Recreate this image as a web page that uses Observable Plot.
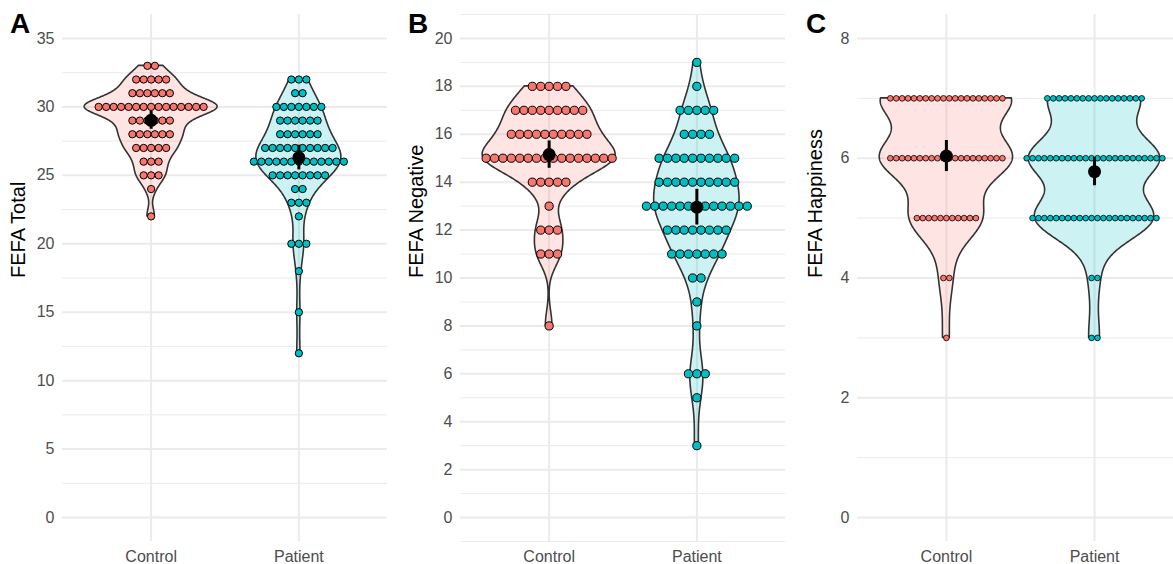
<!DOCTYPE html>
<html>
<head>
<meta charset="utf-8">
<script src="https://cdn.jsdelivr.net/npm/d3@7"></script>
<script src="https://cdn.jsdelivr.net/npm/@observablehq/plot@0.6"></script>
<style>
  html, body { margin: 0; padding: 0; background: white; }
  #wrap { position: relative; width: 1173px; height: 564px; overflow: hidden; font-family: "Liberation Sans", Arial, sans-serif; }
  .panel { position: absolute; top: 0; }
  .tag { position: absolute; top: 10px; font-size: 28px; font-weight: bold; color: black; line-height: 1; }
</style>
</head>
<body>
<div id="wrap"></div>
<script>
// ---------- DATA ----------
const groups = ["Control", "Patient"];
const groupColors = ["#F8766D", "#00BFC4"];

// Panel A: FEFA Total
const totalControlValues = [33, 32, 31, 30, 29, 28, 27, 26, 25, 24, 22];
const totalControlCounts = [2, 5, 6, 15, 6, 6, 5, 3, 3, 1, 1];
const totalPatientValues = [32, 31, 30, 29, 28, 27, 26, 25, 24, 23, 22, 20, 18, 15, 12];
const totalPatientCounts = [3, 2, 7, 6, 6, 10, 13, 8, 2, 3, 1, 3, 1, 1, 1];
const totalTicks = [0, 5, 10, 15, 20, 25, 30, 35];
const totalMinorTicks = [2.5, 7.5, 12.5, 17.5, 22.5, 27.5, 32.5];

// Panel B: FEFA Negative
const negControlValues = [18, 17, 16, 15, 14, 13, 12, 11, 8];
const negControlCounts = [5, 9, 10, 16, 5, 1, 3, 3, 1];
const negPatientValues = [19, 18, 17, 16, 15, 14, 13, 12, 11, 10, 9, 8, 6, 5, 3];
const negPatientCounts = [1, 1, 5, 4, 10, 10, 13, 8, 7, 2, 1, 1, 3, 1, 1];
const negTicks = [0, 2, 4, 6, 8, 10, 12, 14, 16, 18, 20];
const negMinorTicks = [-1, 1, 3, 5, 7, 9, 11, 13, 15, 17, 19, 21];

// Panel C: FEFA Happiness
const happyControlValues = [7, 6, 5, 4, 3];
const happyControlCounts = [20, 20, 11, 2, 1];
const happyPatientValues = [7, 6, 5, 4, 3];
const happyPatientCounts = [17, 24, 22, 2, 2];
const happyTicks = [0, 2, 4, 6, 8];
const happyMinorTicks = [1, 3, 5, 7];

const panels = [
  { tag: "A", title: "FEFA Total", left: 0, width: 390, marginLeft: 62, marginRight: 3, xMax: 2.6, titleDx: -44, tagLeft: 10,
    domain: [-1.75, 36.75], ticks: totalTicks, minor: totalMinorTicks, dotPx: 7.5, dotStroke: 1,
    data: [[totalControlValues, totalControlCounts], [totalPatientValues, totalPatientCounts]] },
  { tag: "B", title: "FEFA Negative", left: 390, width: 397, marginLeft: 70, marginRight: 2, xMax: 2.6, titleDx: -44, tagLeft: 408,
    domain: [-1, 21], ticks: negTicks, minor: negMinorTicks, dotPx: 8.4, dotStroke: 1,
    data: [[negControlValues, negControlCounts], [negPatientValues, negPatientCounts]] },
  { tag: "C", title: "FEFA Happiness", left: 787, width: 386, marginLeft: 70, marginRight: 0, xMax: 2.533, titleDx: -42, tagLeft: 806,
    domain: [-0.4, 8.4], ticks: happyTicks, minor: happyMinorTicks, dotPx: 5.9, dotStroke: 0.8,
    data: [[happyControlValues, happyControlCounts], [happyPatientValues, happyPatientCounts]] }
];

// ---------- HELPERS ----------
function expand(values, counts) {
  const out = [];
  values.forEach((v, i) => { for (let k = 0; k < counts[i]; k++) out.push(v); });
  return out.sort((a, b) => a - b);
}
function nrd0(x) {
  const sd = d3.deviation(x);
  const iqr = d3.quantile(x, 0.75) - d3.quantile(x, 0.25);
  let lo = Math.min(sd, iqr / 1.34);
  if (!(lo > 0)) lo = sd || 1;
  return 0.9 * lo * Math.pow(x.length, -0.2);
}
function kde(x, bw, grid) {
  const n = x.length, c = 1 / (Math.sqrt(2 * Math.PI) * bw * n);
  return grid.map(g => c * d3.sum(x, v => Math.exp(-0.5 * ((g - v) / bw) ** 2)));
}

const wrap = document.getElementById("wrap");

panels.forEach(p => {
  const plotW = p.width - p.marginLeft - p.marginRight;
  const pxPerUnit = plotW / (p.xMax - 0.4);
  const spacing = p.dotPx / pxPerUnit;

  const raw = p.data.map(([v, c]) => expand(v, c));

  // violins (scale = "area")
  const dens = raw.map(x => {
    const bw = nrd0(x);
    const lo = d3.min(x), hi = d3.max(x);
    const grid = d3.range(512).map(i => lo + (hi - lo) * i / 511);
    return { grid, d: kde(x, bw, grid) };
  });
  const maxD = d3.max(dens, e => d3.max(e.d));
  const violin = [];
  dens.forEach((e, gi) => {
    e.grid.forEach((y, j) => {
      const w = 0.45 * e.d[j] / maxD;
      violin.push({ group: groups[gi], y, x1: gi + 1 - w, x2: gi + 1 + w });
    });
  });

  // dots
  const dots = [];
  p.data.forEach(([vals, counts], gi) => {
    vals.forEach((v, i) => {
      const k = counts[i];
      for (let j = 0; j < k; j++) dots.push({ group: groups[gi], y: v, x: gi + 1 + (j - (k - 1) / 2) * spacing });
    });
  });

  // mean + 95% CI
  const stats = raw.map((x, gi) => {
    const n = x.length, m = d3.mean(x), se = d3.deviation(x) / Math.sqrt(n);
    const z = 1.959964, t = z + (z ** 3 + z) / (4 * (n - 1));
    return { x: gi + 1, mean: m, lo: m - t * se, hi: m + t * se };
  });

  const chart = Plot.plot({
    width: p.width, height: 564,
    marginTop: 14, marginBottom: 23, marginLeft: p.marginLeft, marginRight: p.marginRight,
    style: { fontFamily: "'Liberation Sans', Arial, sans-serif", fontSize: "16px", color: "#4D4D4D", background: "white" },
    x: { domain: [0.4, p.xMax], ticks: [1, 2], tickFormat: d => groups[d - 1], tickSize: 0, tickPadding: 9, label: null },
    y: { domain: p.domain, ticks: p.ticks, tickSize: 0, tickPadding: 8, label: null },
    color: { domain: groups, range: groupColors },
    marks: [
      Plot.ruleY(p.minor, { stroke: "#EBEBEB", strokeWidth: 1 }),
      Plot.ruleY(p.ticks, { stroke: "#EBEBEB", strokeWidth: 2 }),
      Plot.ruleX([1, 2], { stroke: "#EBEBEB", strokeWidth: 2 }),
      Plot.areaX(violin, { y: "y", x1: "x1", x2: "x2", z: "group", fill: "group", fillOpacity: 0.2, stroke: "#333333", strokeWidth: 1.6, curve: "linear" }),
      Plot.dot(dots, { x: "x", y: "y", r: p.dotPx / 2 - 0.1, fill: "group", stroke: "black", strokeWidth: p.dotStroke }),
      Plot.ruleX(stats, { x: "x", y1: "lo", y2: "hi", stroke: "black", strokeWidth: 3 }),
      Plot.dot(stats, { x: "x", y: "mean", r: 6.5, fill: "black", stroke: "none" }),
      Plot.text([p.title], { text: d => d, frameAnchor: "left", dx: p.titleDx, rotate: -90, fontSize: 20, fill: "black" })
    ]
  });
  chart.classList.add("panel");
  chart.style.left = p.left + "px";
  wrap.appendChild(chart);

  const tag = document.createElement("div");
  tag.className = "tag";
  tag.style.left = p.tagLeft + "px";
  tag.textContent = p.tag;
  wrap.appendChild(tag);
});
</script>
</body>
</html>
